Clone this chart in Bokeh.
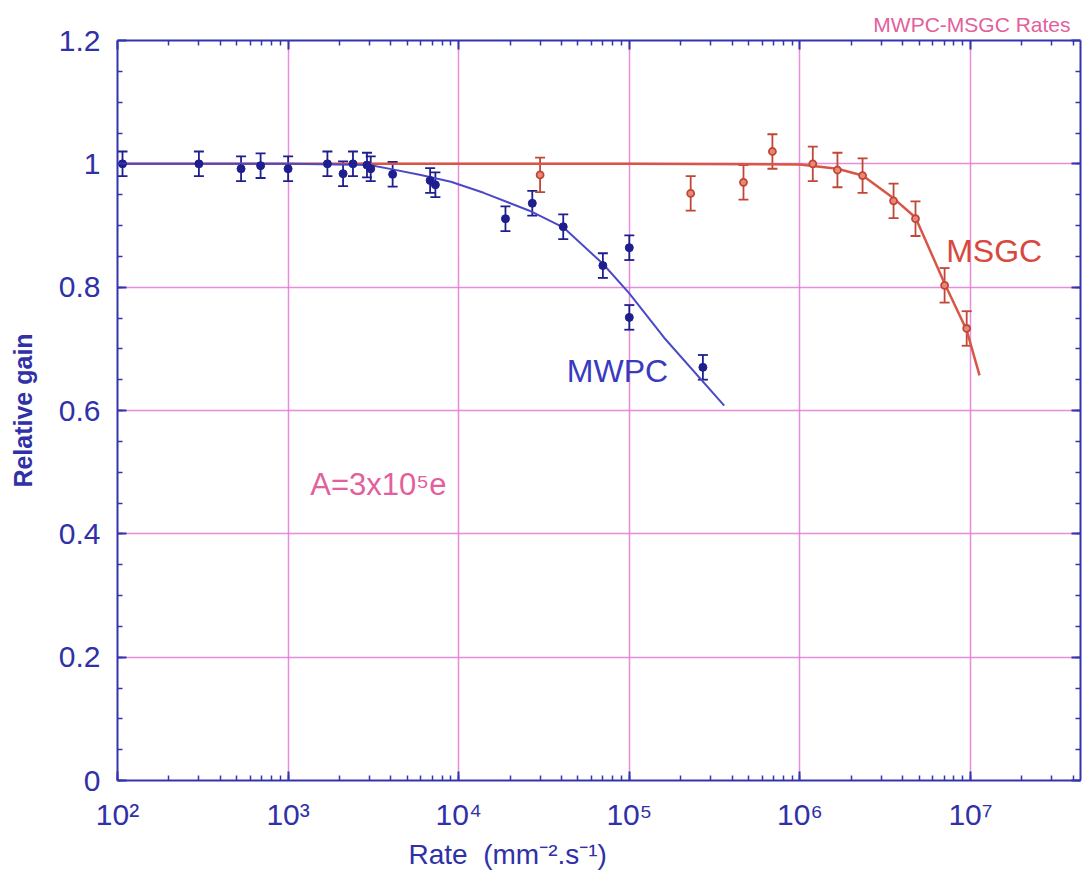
from bokeh.plotting import figure
from bokeh.models import (FixedTicker, LogAxis, LinearAxis, Whisker, TeeHead,
                          ColumnDataSource, CustomJSTickFormatter, Label, Range1d, Title)
from bokeh.embed import file_html
from bokeh.resources import INLINE

# ---------------- data ----------------
mwpc_rate = [107, 300, 530, 690, 1000, 1700, 2100, 2400, 2900, 3050, 4100,
             6800, 7300, 18800, 27000, 41000, 70000, 100000, 100000, 270000]
mwpc_gain = [1.0, 1.0, 0.992, 0.997, 0.992, 1.0, 0.984, 1.0, 0.998, 0.992, 0.983,
             0.973, 0.966, 0.911, 0.936, 0.898, 0.835, 0.864, 0.751, 0.670]
mwpc_err = [0.02, 0.02, 0.02, 0.02, 0.02, 0.02, 0.02, 0.02, 0.02, 0.02, 0.02,
            0.02, 0.02, 0.02, 0.02, 0.02, 0.02, 0.02, 0.02, 0.02]

mwpc_fit_rate = [100, 1000, 3000, 4100, 6000, 9000, 14000, 26000, 41000,
                 70000, 100000, 160000, 360000]
mwpc_fit_gain = [1.0, 1.0, 0.998, 0.991, 0.982, 0.971, 0.953, 0.924, 0.897,
                 0.838, 0.79, 0.718, 0.608]

msgc_rate = [30000, 229000, 467000, 690000, 1190000, 1660000, 2330000,
             3540000, 4760000, 7050000, 9500000]
msgc_gain = [0.982, 0.952, 0.970, 1.020, 1.0, 0.99, 0.981, 0.94, 0.911, 0.803, 0.733]
msgc_err = [0.028, 0.028, 0.028, 0.028, 0.028, 0.028, 0.028, 0.028, 0.028, 0.028, 0.028]

msgc_fit_rate = [100, 100000, 1000000, 1660000, 2330000, 3540000, 4760000,
                 7050000, 9500000, 11300000]
msgc_fit_gain = [1.0, 1.0, 0.999, 0.992, 0.981, 0.944, 0.913, 0.806, 0.73, 0.657]

x_major = [1e2, 1e3, 1e4, 1e5, 1e6, 1e7]
y_major = [0, 0.2, 0.4, 0.6, 0.8, 1.0, 1.2]

# ---------------- styles ----------------
AXIS = "#3434b0"
LABEL = "#3030a8"
GRID = "#e27ad2"
PINK = "#e2609c"
BLUE_PT = "#1e1e8e"
BLUE_LN = "#4a4ac6"
RED_PT = "#c04636"
RED_LN = "#d85646"
FONT = "Liberation Sans"

x_minor = [m * d for d in x_major for m in range(2, 10)]
y_minor = [i * 0.05 for i in range(0, 25)]

FW = 963
p = figure(x_axis_type="log", x_range=Range1d(100, 10 ** (2 + FW / 170.6)),
           y_range=Range1d(0, 1.2), frame_width=FW, frame_height=740,
           min_border_left=117, min_border_top=40, min_border_right=2,
           min_border_bottom=92, output_backend="svg", toolbar_location=None,
           background_fill_color="white", border_fill_color="white",
           outline_line_color=None)

# title
p.title.text = "MWPC-MSGC Rates"
p.title.align = "right"
p.title.text_color = PINK
p.title.text_font = FONT
p.title.text_font_size = "21px"
p.title.text_font_style = "normal"
p.title.offset = 10

xt = FixedTicker(ticks=x_major, minor_ticks=x_minor)
yt = FixedTicker(ticks=y_major, minor_ticks=y_minor)

blank = CustomJSTickFormatter(code="return ''")

xfmt = CustomJSTickFormatter(code="""
const sup = {2:'\u00b2',3:'\u00b3',4:'\u2074',5:'\u2075',6:'\u2076',7:'\u2077',8:'\u2078'};
const e = Math.round(Math.log10(tick));
return '10' + sup[e];
""")
yfmt = CustomJSTickFormatter(code="""
if (Math.abs(tick - Math.round(tick)) < 1e-9) return tick.toFixed(0);
return tick.toFixed(1);
""")

top = LogAxis(ticker=xt, formatter=blank)
right = LinearAxis(ticker=yt, formatter=blank)
p.add_layout(top, "above")
p.add_layout(right, "right")

p.xaxis[0].ticker = xt
p.yaxis[0].ticker = yt
p.below[0].formatter = xfmt
p.left[0].formatter = yfmt

for ax in [p.below[0], p.left[0], top, right]:
    ax.axis_line_color = AXIS
    ax.axis_line_width = 2
    ax.major_tick_line_color = AXIS
    ax.minor_tick_line_color = AXIS
    ax.major_tick_line_width = 2
    ax.minor_tick_line_width = 1.5
    ax.major_tick_in = 9
    ax.major_tick_out = 0
    ax.minor_tick_in = 5
    ax.minor_tick_out = 0
    ax.major_label_text_color = LABEL
    ax.major_label_text_font = FONT
    ax.major_label_text_font_size = "30px"

p.below[0].major_label_standoff = 17
p.left[0].major_label_standoff = 17
top.major_label_text_font_size = "1px"
right.major_label_text_font_size = "1px"
top.major_label_standoff = 0
right.major_label_standoff = 0

p.left[0].axis_label = "Relative gain"
p.left[0].axis_label_text_color = LABEL
p.left[0].axis_label_text_font = FONT
p.left[0].axis_label_text_font_style = "bold"
p.left[0].axis_label_text_font_size = "25px"
p.left[0].axis_label_standoff = 19

# x-axis title, placed as a below-title so it can sit left of centre
xt_title = Title(text="Rate\u00a0\u00a0(mm\u207b\u00b2.s\u207b\u00b9)", align="left", offset=291,
                 text_color=LABEL, text_font=FONT, text_font_size="28px",
                 text_font_style="normal", standoff=6)
p.add_layout(xt_title, "below")

# grid
p.xgrid.ticker = FixedTicker(ticks=x_major)
p.ygrid.ticker = FixedTicker(ticks=y_major)
for g in [p.xgrid, p.ygrid]:
    g.grid_line_color = GRID
    g.grid_line_width = 1.5
    g.grid_line_alpha = 0.85

# fits
p.line(msgc_fit_rate, msgc_fit_gain, line_color=RED_LN, line_width=2.5)
p.line(mwpc_fit_rate, mwpc_fit_gain, line_color=BLUE_LN, line_width=2)

# data with error bars
src_w = ColumnDataSource(dict(x=mwpc_rate, y=mwpc_gain,
                              lo=[g - e for g, e in zip(mwpc_gain, mwpc_err)],
                              hi=[g + e for g, e in zip(mwpc_gain, mwpc_err)]))
src_s = ColumnDataSource(dict(x=msgc_rate, y=msgc_gain,
                              lo=[g - e for g, e in zip(msgc_gain, msgc_err)],
                              hi=[g + e for g, e in zip(msgc_gain, msgc_err)]))

for src, col in [(src_w, BLUE_PT), (src_s, RED_PT)]:
    w = Whisker(source=src, base="x", lower="lo", upper="hi",
                line_color=col, line_width=1.8,
                upper_head=TeeHead(size=10, line_color=col, line_width=1.8),
                lower_head=TeeHead(size=10, line_color=col, line_width=1.8))
    p.add_layout(w)

p.scatter("x", "y", source=src_w, size=8, fill_color=BLUE_PT, line_color=BLUE_PT)
p.scatter("x", "y", source=src_s, size=7, fill_color="#e88878", line_color=RED_PT,
          line_width=1.8)

# text labels
p.add_layout(Label(x=43000, y=0.664, text="MWPC", text_color="#3a3ac0",
                   text_font=FONT, text_font_size="32px", text_baseline="alphabetic"))
p.add_layout(Label(x=7200000, y=0.858, text="MSGC", text_color="#d8483e",
                   text_font=FONT, text_font_size="32px", text_baseline="alphabetic"))
p.add_layout(Label(x=1350, y=0.48, text="A=3x10\u2075e", text_color=PINK,
                   text_font=FONT, text_font_size="31px", text_baseline="alphabetic"))

open("out.html", "w").write(file_html(p, INLINE))
